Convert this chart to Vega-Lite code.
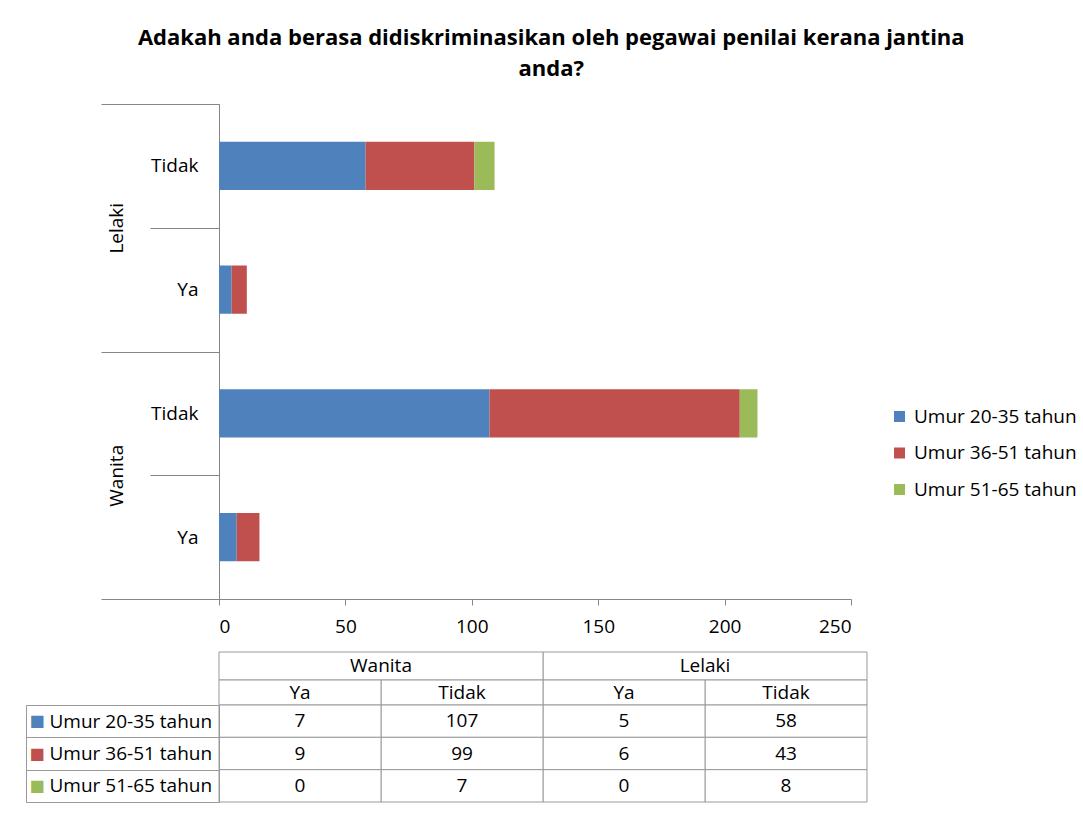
{
  "$schema": "https://vega.github.io/schema/vega-lite/v6.json",
  "padding": {"left": 25, "top": 27, "right": 0, "bottom": 0},
  "background": "white",
  "datasets": {
    "kaji": [
      {"jantina": "Lelaki", "jawapan": "Tidak", "kategori": "Lelaki|Tidak", "umur": "Umur 20-35 tahun", "n": 58},
      {"jantina": "Lelaki", "jawapan": "Tidak", "kategori": "Lelaki|Tidak", "umur": "Umur 36-51 tahun", "n": 43},
      {"jantina": "Lelaki", "jawapan": "Tidak", "kategori": "Lelaki|Tidak", "umur": "Umur 51-65 tahun", "n": 8},
      {"jantina": "Lelaki", "jawapan": "Ya", "kategori": "Lelaki|Ya", "umur": "Umur 20-35 tahun", "n": 5},
      {"jantina": "Lelaki", "jawapan": "Ya", "kategori": "Lelaki|Ya", "umur": "Umur 36-51 tahun", "n": 6},
      {"jantina": "Lelaki", "jawapan": "Ya", "kategori": "Lelaki|Ya", "umur": "Umur 51-65 tahun", "n": 0},
      {"jantina": "Wanita", "jawapan": "Tidak", "kategori": "Wanita|Tidak", "umur": "Umur 20-35 tahun", "n": 107},
      {"jantina": "Wanita", "jawapan": "Tidak", "kategori": "Wanita|Tidak", "umur": "Umur 36-51 tahun", "n": 99},
      {"jantina": "Wanita", "jawapan": "Tidak", "kategori": "Wanita|Tidak", "umur": "Umur 51-65 tahun", "n": 7},
      {"jantina": "Wanita", "jawapan": "Ya", "kategori": "Wanita|Ya", "umur": "Umur 20-35 tahun", "n": 7},
      {"jantina": "Wanita", "jawapan": "Ya", "kategori": "Wanita|Ya", "umur": "Umur 36-51 tahun", "n": 9},
      {"jantina": "Wanita", "jawapan": "Ya", "kategori": "Wanita|Ya", "umur": "Umur 51-65 tahun", "n": 0}
    ]
  },
  "title": {
    "text": ["Adakah anda berasa didiskriminasikan oleh pegawai penilai  kerana jantina", "anda?"],
    "font": "Open Sans",
    "fontSize": 22,
    "fontWeight": "bold",
    "lineHeight": 31,
    "color": "#000000",
    "anchor": "middle",
    "offset": 14
  },
  "spacing": 15,
  "resolve": {"scale": {"x": "independent", "y": "independent", "color": "independent"}, "legend": {"color": "independent"}},
  "vconcat": [
    {
      "width": 632,
      "height": 495,
      "data": {"name": "kaji"},
      "layer": [
        {
          "mark": {"type": "bar", "height": {"band": 0.39}},
          "encoding": {
            "y": {
              "field": "kategori", "type": "nominal",
              "sort": ["Lelaki|Tidak", "Lelaki|Ya", "Wanita|Tidak", "Wanita|Ya"],
              "scale": {"paddingInner": 0, "paddingOuter": 0},
              "axis": {
                "title": null,
                "tickBand": "extent",
                "tickSize": 69,
                "tickColor": "#868686",
                "domainColor": "#868686",
                "labelExpr": "datum.value ? split(datum.value, '|')[1] : ''",
                "labelPadding": -48,
                "labelAlign": "right",
                "labelBaseline": "middle",
                "labelFont": "Open Sans",
                "labelFontSize": 19,
                "labelColor": "#000000"
              }
            },
            "x": {
              "field": "n", "type": "quantitative", "stack": "zero",
              "scale": {"domain": [0, 250], "nice": false},
              "axis": {
                "title": null,
                "values": [0, 50, 100, 150, 200, 250],
                "grid": false,
                "tickSize": 6,
                "tickColor": "#868686",
                "domainColor": "#868686",
                "labelPadding": 12,
                "labelFont": "Open Sans",
                "labelFontSize": 19,
                "labelColor": "#000000"
              }
            },
            "color": {
              "field": "umur", "type": "nominal",
              "scale": {"domain": ["Umur 20-35 tahun", "Umur 36-51 tahun", "Umur 51-65 tahun"], "range": ["#4f81bd", "#c0504d", "#9bbb59"]},
              "legend": {
                "title": null,
                "orient": "none",
                "legendX": 671,
                "legendY": 303,
                "padding": 0,
                "symbolType": "square",
                "symbolSize": 121,
                "symbolStrokeWidth": 0,
                "labelFont": "Open Sans",
                "labelFontSize": 19,
                "labelColor": "#000000",
                "labelOffset": 5,
                "rowPadding": 16.5,
                "labelLimit": 300
              }
            },
            "order": {"field": "umur", "sort": "ascending"}
          }
        },
        {
          "mark": {"type": "bar", "opacity": 0},
          "encoding": {
            "y": {
              "field": "kategori", "type": "nominal",
              "sort": ["Lelaki|Tidak", "Lelaki|Ya", "Wanita|Tidak", "Wanita|Ya"],
              "axis": {
                "orient": "left",
                "title": null,
                "tickBand": "extent",
                "tickSize": 118,
                "tickColor": "#868686",
                "tickOpacity": {"condition": {"test": "datum.value === 'Lelaki|Tidak' || datum.value === 'Wanita|Tidak'", "value": 0}, "value": 1},
                "domain": false,
                "labelExpr": "datum.value && indexof(datum.value, 'Tidak') >= 0 ? split(datum.value, '|')[0] : ''",
                "labelAngle": 270,
                "labelAlign": "center",
                "labelBaseline": "middle",
                "labelPadding": -15,
                "labelOffset": 61.875,
                "labelFont": "Open Sans",
                "labelFontSize": 19,
                "labelColor": "#000000"
              }
            },
            "x": {"field": "n", "type": "quantitative"}
          }
        }
      ],
      "resolve": {"axis": {"y": "independent"}}
    },
    {
      "spacing": 0,
      "bounds": "flush",
      "resolve": {"scale": {"x": "independent", "y": "independent"}},
      "vconcat": [
        {
          "width": 648,
          "height": 28,
          "data": {"name": "kaji"},
          "transform": [{"aggregate": [{"op": "count", "as": "c"}], "groupby": ["jantina"]}],
          "encoding": {
            "x": {"field": "jantina", "type": "nominal", "sort": ["Wanita", "Lelaki"], "scale": {"paddingInner": 0, "paddingOuter": 0}, "axis": null}
          },
          "layer": [
            {"mark": {"type": "rect", "fill": "white", "stroke": "#9a9a9a", "strokeWidth": 1}},
            {"mark": {"type": "text", "font": "Open Sans", "fontSize": 19, "color": "#000000"}, "encoding": {"text": {"field": "jantina"}}}
          ]
        },
        {
          "width": 648,
          "height": 25,
          "data": {"name": "kaji"},
          "transform": [{"aggregate": [{"op": "count", "as": "c"}], "groupby": ["kategori", "jawapan"]}],
          "encoding": {
            "x": {"field": "kategori", "type": "nominal", "sort": ["Wanita|Ya", "Wanita|Tidak", "Lelaki|Ya", "Lelaki|Tidak"], "scale": {"paddingInner": 0, "paddingOuter": 0}, "axis": null}
          },
          "layer": [
            {"mark": {"type": "rect", "fill": "white", "stroke": "#9a9a9a", "strokeWidth": 1}},
            {"mark": {"type": "text", "font": "Open Sans", "fontSize": 19, "color": "#000000"}, "encoding": {"text": {"field": "jawapan"}}}
          ]
        },
        {
          "width": 648,
          "height": 97,
          "data": {"name": "kaji"},
          "encoding": {
            "x": {"field": "kategori", "type": "nominal", "sort": ["Wanita|Ya", "Wanita|Tidak", "Lelaki|Ya", "Lelaki|Tidak"], "scale": {"paddingInner": 0, "paddingOuter": 0}, "axis": null}
          },
          "layer": [
            {
              "mark": {"type": "rect", "fill": "white", "stroke": "#9a9a9a", "strokeWidth": 1},
              "encoding": {
                "y": {
                  "field": "umur", "type": "nominal",
                  "sort": ["Umur 20-35 tahun", "Umur 36-51 tahun", "Umur 51-65 tahun"],
                  "scale": {"paddingInner": 0, "paddingOuter": 0},
                  "axis": {
                    "title": null,
                    "tickBand": "extent",
                    "tickSize": 193,
                    "tickColor": "#9a9a9a",
                    "domainColor": "#9a9a9a",
                    "labelAlign": "left",
                    "labelBaseline": "middle",
                    "labelPadding": -23,
                    "labelFont": "Open Sans",
                    "labelFontSize": 19,
                    "labelColor": "#000000",
                    "labelLimit": 300
                  }
                }
              }
            },
            {
              "mark": {"type": "text", "font": "Open Sans", "fontSize": 19, "color": "#000000"},
              "encoding": {
                "y": {
                  "field": "umur", "type": "nominal",
                  "sort": ["Umur 20-35 tahun", "Umur 36-51 tahun", "Umur 51-65 tahun"],
                  "axis": {
                    "orient": "left",
                    "title": null,
                    "offset": 193,
                    "ticks": false,
                    "tickSize": 0,
                    "domainColor": "#9a9a9a",
                    "labelExpr": "'■'",
                    "labelAlign": "left",
                    "labelBaseline": "middle",
                    "labelPadding": -3,
                    "labelFont": "DejaVu Sans",
                    "labelFontSize": 16,
                    "labelColor": {
                      "condition": [
                        {"test": "datum.value === 'Umur 20-35 tahun'", "value": "#4f81bd"},
                        {"test": "datum.value === 'Umur 36-51 tahun'", "value": "#c0504d"}
                      ],
                      "value": "#9bbb59"
                    }
                  }
                },
                "text": {"field": "n", "type": "quantitative"}
              }
            }
          ],
          "resolve": {"axis": {"y": "independent"}}
        }
      ]
    }
  ],
  "config": {
    "view": {"stroke": null},
    "font": "Open Sans"
  }
}
